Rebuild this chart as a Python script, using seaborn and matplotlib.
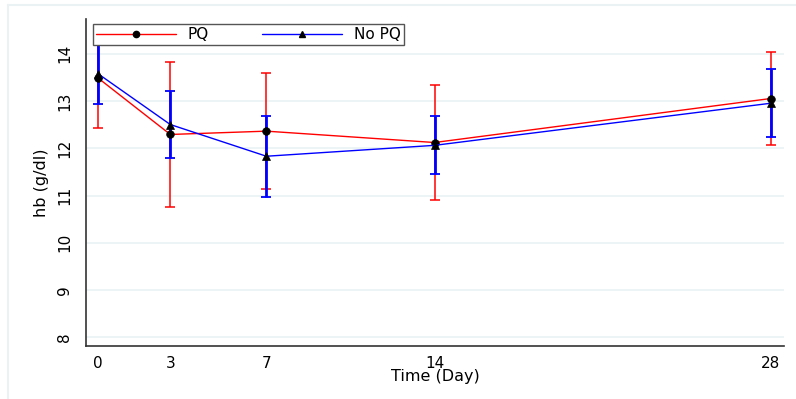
import numpy as np
import pandas as pd
import matplotlib
matplotlib.use("Agg")
import matplotlib.pyplot as plt
from matplotlib.lines import Line2D
import seaborn as sns

# Haemoglobin over follow-up, mean +/- SD by treatment group
days = [0, 3, 7, 14, 28]
pq_mean = [13.48, 12.29, 12.36, 12.12, 13.05]
pq_sd = [1.06, 1.54, 1.23, 1.21, 0.99]
nopq_mean = [13.57, 12.50, 11.83, 12.06, 12.95]
nopq_sd = [0.64, 0.70, 0.86, 0.61, 0.72]
groups = ["PQ", "No PQ"]
y_ticks = [8, 9, 10, 11, 12, 13, 14]

RED = "#ff0000"
BLUE = "#0000ff"
GRID = "#eaf2f3"
INK = "#333333"

df = pd.DataFrame({
    "day": days * 2,
    "hb": pq_mean + nopq_mean,
    "sd": pq_sd + nopq_sd,
    "group": [groups[0]] * len(days) + [groups[1]] * len(days),
})

sns.set_style("white")
plt.rcParams["font.family"] = ["DejaVu Sans"]
plt.rcParams["text.color"] = "black"
plt.rcParams["axes.labelcolor"] = "black"
plt.rcParams["xtick.labelcolor"] = "black"
plt.rcParams["ytick.labelcolor"] = "black"

W, H = 796, 399
fig = plt.figure(figsize=(W / 100, H / 100), dpi=100)
ax = fig.add_axes([86 / W, 1 - 346 / H, (784 - 86) / W, (346 - 19) / H])

for yt in y_ticks:
    ax.axhline(yt, color=GRID, lw=1.2, zorder=0)

# error bars: red first, blue drawn over it
pq = df[df.group == "PQ"]
npq = df[df.group == "No PQ"]
ax.errorbar(pq.day, pq.hb, yerr=pq.sd, fmt="none", ecolor=RED,
            elinewidth=1.1, capsize=3.6, capthick=1.1, zorder=2)
ax.errorbar(npq.day, npq.hb, yerr=npq.sd, fmt="none", ecolor=BLUE,
            elinewidth=2.0, capsize=3.6, capthick=1.3, zorder=3)

sns.lineplot(data=df, x="day", y="hb", hue="group", style="group",
             palette={"PQ": RED, "No PQ": BLUE},
             markers={"PQ": "o", "No PQ": "^"}, dashes=False,
             markersize=5.5, markerfacecolor="black", markeredgecolor="black",
             markeredgewidth=0.5, linewidth=1.0, legend=False,
             estimator=None, sort=True, ax=ax, zorder=4)

ax.set_xlim(-0.51, 28.55)
ax.set_ylim(7.82, 14.73)
ax.set_xticks(days)
ax.set_yticks(y_ticks)
ax.set_yticklabels([str(v) for v in y_ticks], rotation=90, va="center")
ax.tick_params(axis="y", length=6, width=1, color=INK, labelcolor="black",
               pad=4, labelsize=11)
ax.tick_params(axis="x", length=5, width=1, color=INK, labelcolor="black",
               pad=2, labelsize=11)
ax.grid(False)

for side in ["top", "right"]:
    ax.spines[side].set_visible(False)
for side in ["left", "bottom"]:
    ax.spines[side].set_color(INK)
    ax.spines[side].set_linewidth(1.2)

ax.set_xlabel("Time (Day)", fontsize=11.5, labelpad=-1, color="black")
ax.set_ylabel("hb (g/dl)", fontsize=11.5, labelpad=6, color="black")

handles = [
    Line2D([], [], color=RED, lw=1.0, marker="o", markersize=4.5,
           markerfacecolor="black", markeredgecolor="black"),
    Line2D([], [], color=BLUE, lw=1.0, marker="^", markersize=4.5,
           markerfacecolor="black", markeredgecolor="black"),
]
leg = ax.legend(handles, groups, ncol=2, loc="upper left",
                bbox_to_anchor=(93 / W, 1 - 24 / H), bbox_transform=fig.transFigure,
                borderaxespad=0, fancybox=False, frameon=True, framealpha=1,
                handlelength=5.2, handletextpad=0.8, columnspacing=3.5,
                borderpad=0.2, fontsize=11, labelcolor="black")
leg.get_frame().set_edgecolor("#555555")
leg.get_frame().set_linewidth(1.0)
leg.set_zorder(10)

# light outer frame of the graph region
fig.add_artist(Line2D([8 / W, 1], [1 - 5 / H, 1 - 5 / H], transform=fig.transFigure,
                      color=GRID, lw=1.5))
fig.add_artist(Line2D([8 / W, 8 / W], [0, 1 - 5 / H], transform=fig.transFigure,
                      color=GRID, lw=1.5))

fig.savefig("out.png", dpi=100, facecolor="white")
